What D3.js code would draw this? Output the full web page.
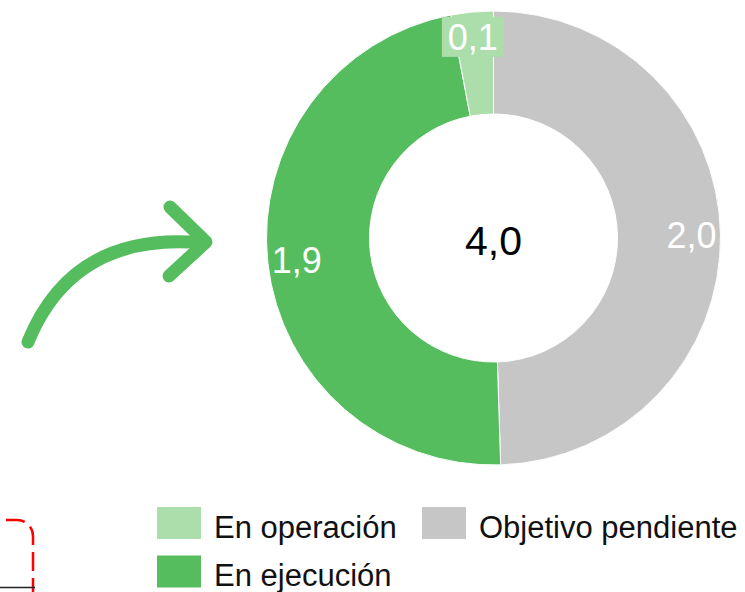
<!DOCTYPE html>
<html>
<head>
<meta charset="utf-8">
<script src="https://cdn.jsdelivr.net/npm/d3@7/dist/d3.min.js"></script>
<style>
  html, body { margin: 0; padding: 0; background: #fff; }
  svg { display: block; }
</style>
</head>
<body>
<div id="chart"></div>
<script>
var categories = ['Objetivo pendiente', 'En ejecución', 'En operación'];
var values     = [1.98, 1.90, 0.12];
var colors     = ['#c6c6c6', '#56bd5e', '#abdeab'];
var legendOrder = ['En operación', 'Objetivo pendiente', 'En ejecución'];

var fmt = function(v){ return d3.format('.1f')(v).replace('.', ','); };

var W = 745, H = 592;
var cx = 493.5, cy = 238, rOuter = 227, rInner = 124, rLabel = 198;
var font = '"Liberation Sans", Arial, sans-serif';

var svg = d3.select('#chart').append('svg')
  .attr('width', W).attr('height', H);

var data = categories.map(function(c, i){ return {name : c, value : values[i], color : colors[i]}; });

var pie = d3.pie().sort(null).value(function(d){ return d.value; });
var arc = d3.arc().innerRadius(rInner).outerRadius(rOuter);
var labelArc = d3.arc().innerRadius(rLabel).outerRadius(rLabel);

var g = svg.append('g').attr('transform', 'translate(' + cx + ',' + cy + ')');

g.selectAll('path.slice')
  .data(pie(data))
  .enter()
  .append('path')
  .classed('slice', true)
  .attr('d', arc)
  .style('fill', function(d){ return d.data.color; })
  .style('stroke', '#fff').style('stroke-width', 1);

// slice labels (small slice gets a coloured box behind it)
var labels = g.selectAll('g.lbl')
  .data(pie(data))
  .enter()
  .append('g')
  .classed('lbl', true)
  .attr('transform', function(d){
     var c = labelArc.centroid(d);
     if (d.data.value < 0.5) { c[0] -= 2; c[1] -= 4; }
     return 'translate(' + c[0] + ',' + c[1] + ')';
  });

labels.filter(function(d){ return d.data.value < 0.5; })
  .append('rect')
  .attr('x', -31).attr('y', -20).attr('width', 62).attr('height', 40)
  .style('fill', function(d){ return d.data.color; });

labels.append('text')
  .attr('text-anchor', 'middle')
  .attr('dy', '0.36em')
  .style('font-family', font).style('font-size', '36px').style('fill', '#fff')
  .text(function(d){ return fmt(d.data.value); });

// total in the middle
g.append('text')
  .attr('text-anchor', 'middle')
  .attr('y', 17)
  .style('font-family', font).style('font-size', '41px').style('fill', '#000')
  .text(fmt(d3.sum(values)));

// legend
var legendPos = [{x : 157, y : 507}, {x : 422, y : 507}, {x : 157, y : 555.5}];
var legend = svg.selectAll('g.legend')
  .data(legendOrder)
  .enter()
  .append('g')
  .classed('legend', true)
  .attr('transform', function(d, i){ return 'translate(' + legendPos[i].x + ',' + legendPos[i].y + ')'; });

legend.append('rect')
  .attr('width', 44).attr('height', 32)
  .style('fill', function(d){ return colors[categories.indexOf(d)]; });

legend.append('text')
  .attr('x', 57).attr('y', 30.5)
  .style('font-family', font).style('font-size', '31px').style('fill', '#111')
  .text(function(d){ return d; });

// curved arrow pointing at the chart
svg.append('path')
  .attr('d', 'M 28 342 Q 73 231 203 243')
  .style('fill', 'none').style('stroke', '#56bd5e').style('stroke-width', 13)
  .style('stroke-linecap', 'round');

svg.append('path')
  .attr('d', 'M 170 207 L 206 242 L 169 276')
  .style('fill', 'none').style('stroke', '#56bd5e').style('stroke-width', 13)
  .style('stroke-linecap', 'round').style('stroke-linejoin', 'round');

// red dashed box in the corner
svg.append('rect')
  .attr('x', -40).attr('y', 520).attr('width', 73).attr('height', 120)
  .attr('rx', 16).attr('ry', 16)
  .style('fill', 'none').style('stroke', '#ff0000').style('stroke-width', 2.5)
  .style('stroke-dasharray', '19, 7').style('stroke-dashoffset', -4);

svg.append('line')
  .attr('x1', 0).attr('y1', 587.5).attr('x2', 35).attr('y2', 587.5)
  .style('stroke', '#222').style('stroke-width', 1.5);
</script>
</body>
</html>
